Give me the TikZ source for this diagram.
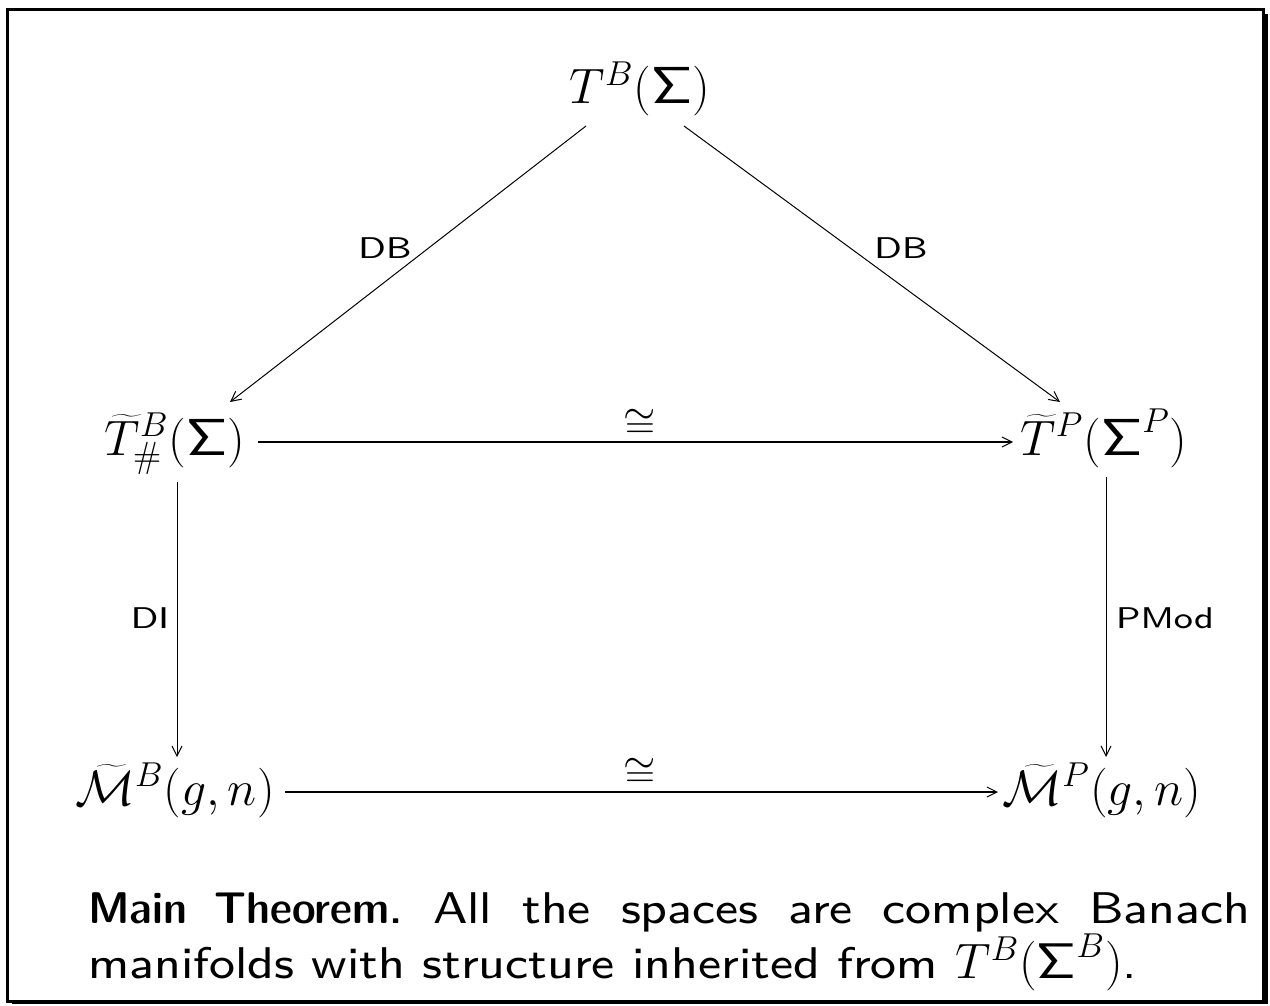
\documentclass[tikz,border=0pt]{standalone}
\usepackage{fontspec}
\setsansfont{lmsans8-regular.otf}[FakeStretch=1.1,BoldFont=lmsansdemicond10-regular.otf,BoldFeatures={FakeStretch=1.12}]
\newfontfamily\labfont{lmsans8-regular.otf}[FakeStretch=1.2]
\newfontfamily\sigfont{lmsans10-regular.otf}[FakeStretch=1.1]
\usetikzlibrary{arrows.meta,calc}
\newcommand{\SSig}{\mbox{\sigfont Σ}}
\begin{document}
\begin{tikzpicture}[x=0.5pt,y=-0.5pt,
  mn/.style={anchor=base,inner sep=0pt,font=\fontsize{26}{30}\selectfont},
  lab/.style={inner sep=0pt,font=\fontsize{15}{18}\selectfont\labfont},
  ar/.style={line width=0.5pt,-{Straight Barb[length=5pt,width=5pt,line width=0.5pt]}},
  arh/.style={ar,line width=1.1pt},
  arb/.style={ar,line width=0.8pt},
  iso/.style={inner sep=0pt,font=\fontsize{20}{24}\selectfont},
]
\useasboundingbox (0,0) rectangle (1270,1006);
% frame with shadow
\draw[line width=1.5pt] (7.5,9.5) rectangle (1263,1001);
\fill (1264,14) rectangle (1267.5,1004);
\fill (12,1002) rectangle (1267.5,1004);
% nodes
\node[mn] (top) at (640,104) {$T^B(\SSig)$};
\node[mn] (tl) at (175,455) {$\widetilde{T}^B_{\#}(\SSig)$};
\node[mn] (tr) at (1104,455) {$\widetilde{T}^P(\SSig^P)$};
\node[mn] (bl) at (175,805) {$\widetilde{\mathcal{M}}^B(g,n)$};
\node[mn] (br) at (1102,805) {$\widetilde{\mathcal{M}}^P(g,n)$};
% connectors
\draw[ar] ($(top.base)+(-54,22)$) -- ($(tl.base)+(55,-53)$);
\draw[ar] ($(top.base)+(44,22)$) -- ($(tr.base)+(-44,-53)$);
\draw[arh] ($(tl.base)+(83,-13)$) -- ($(tr.base)+(-91,-13)$);
\draw[ar] ($(tl.base)+(2,27)$) -- ($(bl.base)+(2,-48)$);
\draw[ar] ($(tr.base)+(2,22)$) -- ($(br.base)+(4,-48)$);
\draw[arb] ($(bl.base)+(110,-13)$) -- ($(br.base)+(-104,-13)$);
% labels
\node[lab] (l1) at (385,248) {DB};
\node[lab] (l2) at (901,248) {DB};
\node[lab] (l3) at (150,618) {DI};
\node[lab] (l4) at (1165,618) {PMod};
\node[iso] (c1) at (640,424) {$\cong$};
\node[iso] (c2) at (640,773) {$\cong$};
% theorem
\node[anchor=north west,inner sep=0pt,text width=581pt,align=justify,
  font=\fontsize{22.2}{25}\selectfont\sffamily] (thm) at (88,892)
  {{\bfseries Main Theorem.}\ All the spaces are complex Banach\linebreak
   manifolds with structure inherited from {\fontsize{25}{25}\selectfont$T^B(\SSig^B)$}.};
\end{tikzpicture}
\end{document}
